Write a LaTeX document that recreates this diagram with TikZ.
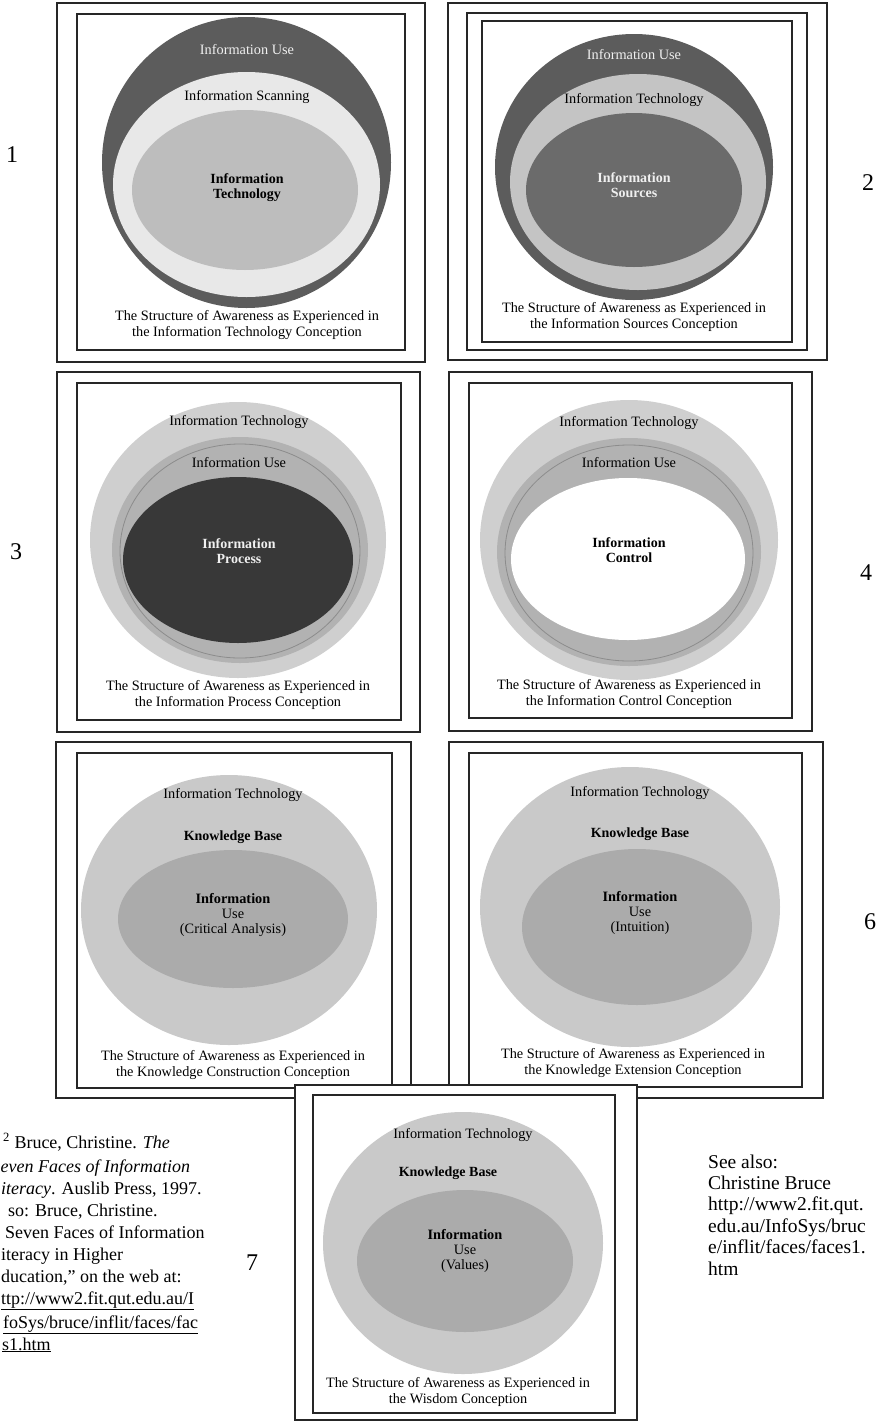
\documentclass[tikz,border=0pt]{standalone}
\usepackage{fontspec}
\setmainfont{Liberation Serif}
\begin{document}
\begin{tikzpicture}[x=1pt,y=-1pt,
  frame/.style={draw=black!85,line width=1.1pt},
  lbl/.style={font=\fontsize{14.3}{15}\selectfont,align=center,inner sep=0pt},
  core/.style={font=\fontsize{14}{15}\selectfont\bfseries,align=center,inner sep=0pt},
  captext/.style={font=\fontsize{14.3}{16}\selectfont,align=center,inner sep=0pt},
  num/.style={font=\fontsize{24}{24}\selectfont,inner sep=0pt},
  note/.style={font=\fontsize{18}{22}\selectfont,anchor=base west,inner sep=0pt},
  seealso/.style={font=\fontsize{19.5}{21}\selectfont,anchor=base west,inner sep=0pt},
  ringline/.style={draw=black!45,line width=0.8pt}]
\definecolor{ringdark}{gray}{0.36}
\definecolor{ringpale}{gray}{0.91}
\definecolor{coremid}{gray}{0.74}
\definecolor{srcmid}{gray}{0.77}
\definecolor{srccore}{gray}{0.42}
\definecolor{procouter}{gray}{0.81}
\definecolor{procmid}{gray}{0.70}
\definecolor{proccore}{gray}{0.22}
\definecolor{knowouter}{gray}{0.79}
\definecolor{knowinner}{gray}{0.67}
\definecolor{lighttext}{gray}{0.94}
\useasboundingbox (0,0) rectangle (879,1422);
\clip (0,0) rectangle (879,1422);

% ---------- 1: Information Technology conception ----------
\draw[frame] (57,3) rectangle (425,362);
\draw[frame] (77,14) rectangle (405,350);
\fill[ringdark] (246.5,162.5) ellipse [x radius=144.5,y radius=145.5];
\fill[ringpale] (246.5,184.5) ellipse [x radius=133.5,y radius=112.5];
\fill[coremid] (245,190) ellipse [x radius=113,y radius=80];
\node[lbl,text=lighttext] (p1use) at (247,50) {Information Use};
\node[lbl] (p1scan) at (247,97) {Information Scanning};
\node[core] (p1tech) at (247,188) {Information\\Technology};
\node[captext] (p1cap) at (247,325) {The Structure of Awareness as Experienced in\\the Information Technology Conception};
\node[num] (n1) at (12,155) {1};

% ---------- 2: Information Sources conception ----------
\draw[frame] (448,3) rectangle (827,360);
\draw[frame] (467,13) rectangle (807,350);
\draw[frame] (482,21) rectangle (792,342);
\fill[ringdark] (634,167) ellipse [x radius=139,y radius=133];
\fill[srcmid] (638,182) ellipse [x radius=128,y radius=108];
\fill[srccore] (634,190) ellipse [x radius=108,y radius=77];
\node[lbl,text=lighttext] (p2use) at (634,55) {Information Use};
\node[lbl] (p2tech) at (634,100) {Information Technology};
\node[core,text=lighttext] (p2src) at (634,185) {Information\\Sources};
\node[captext] (p2cap) at (634,317) {The Structure of Awareness as Experienced in\\the Information Sources Conception};
\node[num] (n2) at (868,183) {2};

% ---------- 3: Information Process conception ----------
\draw[frame] (57,372) rectangle (420,732);
\draw[frame] (77,383) rectangle (401,720);
\fill[procouter] (238,540) ellipse [x radius=148,y radius=138];
\fill[procmid] (240,550) ellipse [x radius=128,y radius=113];
\draw[ringline] (240,551) ellipse [x radius=120,y radius=107];
\fill[proccore] (238,560) ellipse [x radius=115,y radius=83];
\node[lbl] (p3tech) at (239,422) {Information Technology};
\node[lbl] (p3use) at (239,463) {Information Use};
\node[core,text=lighttext] (p3proc) at (239,551) {Information\\Process};
\node[captext] (p3cap) at (238,695) {The Structure of Awareness as Experienced in\\the Information Process Conception};
\node[num] (n3) at (16,552) {3};

% ---------- 4: Information Control conception ----------
\draw[frame] (449,372) rectangle (812,731);
\draw[frame] (469,383) rectangle (792,718);
\fill[procouter] (629,540) ellipse [x radius=149,y radius=140];
\fill[procmid] (629,552) ellipse [x radius=132,y radius=114];
\draw[ringline] (629,553) ellipse [x radius=124,y radius=108];
\fill[white] (628,559) ellipse [x radius=117,y radius=81];
\node[lbl] (p4tech) at (629,423) {Information Technology};
\node[lbl] (p4use) at (629,463) {Information Use};
\node[core] (p4ctrl) at (629,550) {Information\\Control};
\node[captext] (p4cap) at (629,694) {The Structure of Awareness as Experienced in\\the Information Control Conception};
\node[num] (n4) at (866,573) {4};

% ---------- 5: Knowledge Construction conception ----------
\draw[frame] (56,742) rectangle (411,1098);
\draw[frame] (77,753) rectangle (392,1088);
\fill[knowouter] (229,910) ellipse [x radius=148,y radius=135];
\fill[knowinner] (233,919) ellipse [x radius=115,y radius=69];
\node[lbl] (p5tech) at (233,795) {Information Technology};
\node[core] (p5kb) at (233,837) {Knowledge Base};
\node[lbl] (p5use) at (233,915) {\textbf{Information}\\Use\\(Critical Analysis)};
\node[captext] (p5cap) at (233,1065) {The Structure of Awareness as Experienced in\\the Knowledge Construction Conception};

% ---------- 6: Knowledge Extension conception ----------
\draw[frame] (449,742) rectangle (823,1098);
\draw[frame] (469,753) rectangle (802,1087);
\fill[knowouter] (630,907) ellipse [x radius=150,y radius=140];
\fill[knowinner] (637,927) ellipse [x radius=115,y radius=78];
\node[lbl] (p6tech) at (640,793) {Information Technology};
\node[core] (p6kb) at (640,834) {Knowledge Base};
\node[lbl] (p6use) at (640,913) {\textbf{Information}\\Use\\(Intuition)};
\node[captext] (p6cap) at (633,1063) {The Structure of Awareness as Experienced in\\the Knowledge Extension Conception};
\node[num] (n6) at (870,922) {6};

% ---------- 7: Wisdom conception (lies over 5 and 6) ----------
\draw[frame,fill=white] (295,1085) rectangle (637,1420);
\draw[frame] (313,1095) rectangle (615,1413);
\fill[knowouter] (463,1243) ellipse [x radius=140,y radius=131];
\fill[knowinner] (465,1261) ellipse [x radius=108,y radius=71];
\node[lbl] (p7tech) at (463,1135) {Information Technology};
\node[core] (p7kb) at (448,1173) {Knowledge Base};
\node[lbl] (p7use) at (465,1251) {\textbf{Information}\\Use\\(Values)};
\node[captext] (p7cap) at (458,1392) {The Structure of Awareness as Experienced in\\the Wisdom Conception};
\node[num] (n7) at (252,1263) {7};

% ---------- footnote (left margin of the page) ----------
\node[note] (fn1) at (3,1148) {\textsuperscript{2} Bruce, Christine. \textit{The}};
\node[note] (fn2) at (0.5,1172) {\textit{even Faces of Information}};
\node[note] (fn3) at (1,1194) {\textit{iteracy}. Auslib Press, 1997.};
\node[note] (fn4) at (8,1216) {so: Bruce, Christine.};
\node[note] (fn5) at (5,1238) {Seven Faces of Information};
\node[note] (fn6) at (1,1260) {iteracy in Higher};
\node[note] (fn7) at (1,1282) {ducation,'' on the web at:};
\node[note] (fn8) at (1,1304) {\underline{ttp://www2.fit.qut.edu.au/I}};
\node[note] (fn9) at (3,1328) {\underline{foSys/bruce/inflit/faces/fac}};
\node[note] (fn10) at (2,1350) {\underline{s1.htm}};

% ---------- see also ----------
\node[seealso] (sa1) at (708,1168) {See also:};
\node[seealso] (sa2) at (708,1189.4) {Christine Bruce};
\node[seealso] (sa3) at (708,1210.8) {http://www2.fit.qut.};
\node[seealso] (sa4) at (708,1232.2) {edu.au/InfoSys/bruc};
\node[seealso] (sa5) at (708,1253.6) {e/inflit/faces/faces1.};
\node[seealso] (sa6) at (708,1275) {htm};
\end{tikzpicture}
\end{document}
